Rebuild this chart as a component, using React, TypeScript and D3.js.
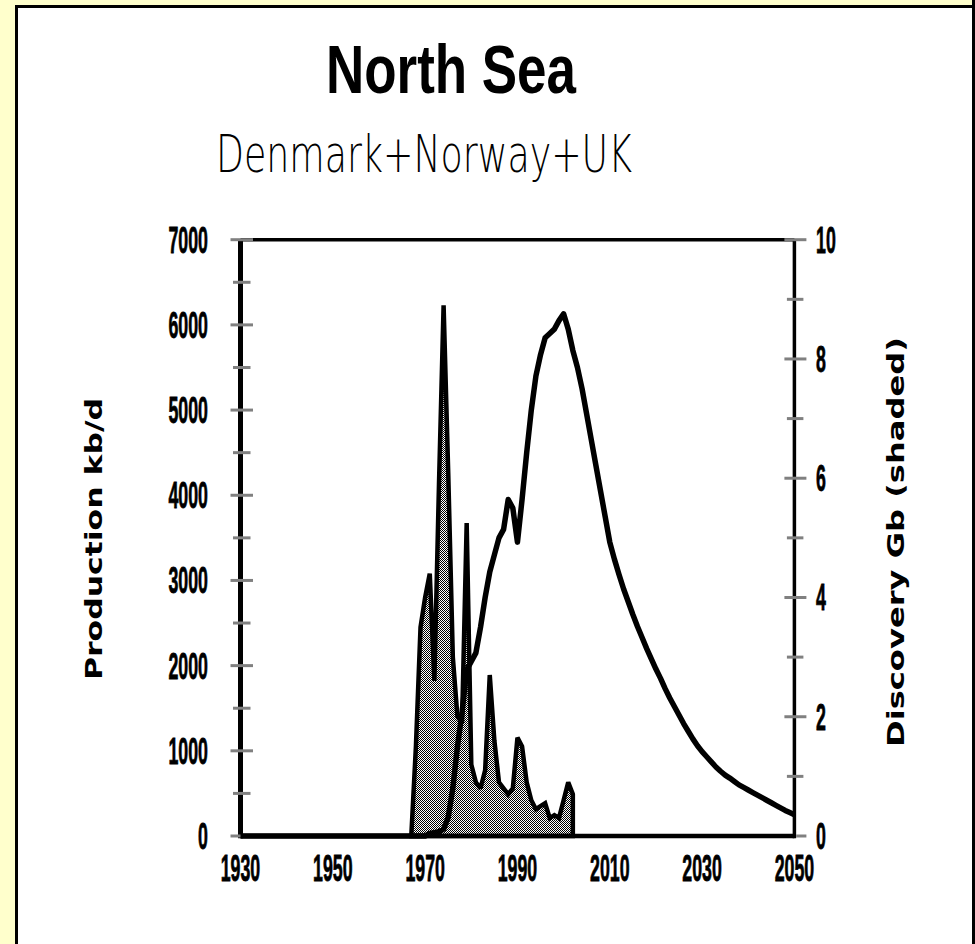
import React from "react";
import * as d3 from "d3";

// ---------- data ----------
const xTickYears = [1930, 1950, 1970, 1990, 2010, 2030, 2050];
const leftTicks = [0, 1000, 2000, 3000, 4000, 5000, 6000, 7000];
const leftMinorTicks = [500, 1500, 2500, 3500, 4500, 5500, 6500];
const rightTicks = [0, 2, 4, 6, 8, 10];
const rightMinorTicks = [1, 3, 5, 7, 9];

// production, kb/d
const prodYears = [
  1930, 1970, 1971, 1972, 1973, 1974, 1975, 1976, 1977, 1978, 1979, 1980,
  1981, 1982, 1983, 1984, 1985, 1986, 1987, 1988, 1989, 1990, 1991, 1992,
  1993, 1994, 1995, 1996, 1997, 1998, 1999, 2000, 2001, 2002, 2003, 2004,
  2005, 2006, 2007, 2008, 2009, 2010, 2011, 2012, 2013, 2014, 2015, 2016,
  2017, 2018, 2019, 2020, 2021, 2022, 2023, 2024, 2025, 2026, 2027, 2028,
  2029, 2030, 2031, 2032, 2033, 2034, 2035, 2036, 2037, 2038, 2039, 2040,
  2041, 2042, 2043, 2044, 2045, 2046, 2047, 2048, 2049, 2050,
];
const prodValues = [
  0, 0, 30, 40, 50, 80, 220, 560, 1050, 1450, 1950, 2050,
  2150, 2450, 2800, 3100, 3300, 3500, 3600, 3950, 3850, 3450, 3950, 4500,
  5000, 5400, 5650, 5850, 5900, 5950, 6050, 6130, 5950, 5700, 5500, 5250,
  4950, 4650, 4350, 4050, 3750, 3450, 3250, 3070, 2900, 2750, 2600, 2460,
  2330, 2200, 2080, 1960, 1850, 1730, 1620, 1520, 1420, 1320, 1230, 1140,
  1060, 990, 930, 870, 810, 760, 715, 680, 640, 600, 570, 540,
  510, 480, 450, 420, 390, 360, 330, 300, 275, 250,
];

// discovery, Gb
const discYears = [
  1967, 1968, 1969, 1970, 1971, 1972, 1973, 1974, 1975, 1976, 1977, 1978,
  1979, 1980, 1981, 1982, 1983, 1984, 1985, 1986, 1987, 1988, 1989, 1990,
  1991, 1992, 1993, 1994, 1995, 1996, 1997, 1998, 1999, 2000, 2001, 2002,
];
const discValues = [
  0, 1.5, 3.5, 4.0, 4.4, 2.6, 5.9, 8.9, 6.1, 3.0, 2.0, 1.9,
  5.25, 1.2, 0.9, 0.8, 1.1, 2.7, 1.6, 0.9, 0.8, 0.7, 0.8, 1.65,
  1.5, 0.9, 0.6, 0.45, 0.5, 0.55, 0.3, 0.35, 0.3, 0.6, 0.9, 0.7,
];

const TITLE = "North Sea";
const SUBTITLE = "Denmark+Norway+UK";
const LEFT_TITLE = "Production kb/d";
const RIGHT_TITLE = "Discovery Gb (shaded)";

// ---------- chart ----------
const W = 975;
const H = 944;
const X0 = 240.5, X1 = 794.4, Y0 = 836, Y1 = 239.7;
const DIGIT_SX = 0.48;

export default function App() {
  const x = d3.scaleLinear().domain([1930, 2050]).range([X0, X1]);
  const yL = d3.scaleLinear().domain([0, 7000]).range([Y0, Y1]);
  const yR = d3.scaleLinear().domain([0, 10]).range([Y0, Y1]);

  const prod = prodYears.map((yr, i) => [yr, prodValues[i]] as [number, number]);
  const disc = discYears.map((yr, i) => [yr, discValues[i]] as [number, number]);

  const prodLine = d3.line<[number, number]>().x((d) => x(d[0])).y((d) => yL(d[1]));
  const discArea = d3
    .area<[number, number]>()
    .x((d) => x(d[0]))
    .y0(yR(0))
    .y1((d) => yR(d[1]));

  const digitFont = "'Liberation Sans', Arial, sans-serif";
  const gray = "#808080";
  const digitProps = {
    fontFamily: digitFont,
    fontWeight: "bold" as const,
    fontSize: 37,
    stroke: "#000",
    strokeWidth: 0.8,
  };
  const at = (tx: number, ty: number) => `translate(${tx},${ty}) scale(${DIGIT_SX},1)`;

  return (
    <svg
      width={W}
      height={H}
      style={{ position: "absolute", left: 0, top: 0 }}
      xmlns="http://www.w3.org/2000/svg"
    >
      <defs>
        <pattern id="dither" width={2} height={2} patternUnits="userSpaceOnUse">
          <rect x={0} y={0} width={2} height={2} fill="#ffffff" />
          <rect x={0} y={0} width={1} height={1} fill="#000000" />
          <rect x={1} y={1} width={1} height={1} fill="#000000" />
        </pattern>
      </defs>
      <rect x={0} y={0} width={W} height={H} fill="#ffffcc" />
      <rect x={16.5} y={6.5} width={W} height={H} fill="#ffffff" stroke="#000" strokeWidth={3} />
      <line x1={973.5} y1={0} x2={973.5} y2={H} stroke="#000" strokeWidth={3} />

      <text
        x={451}
        y={93}
        textAnchor="middle"
        fontFamily={digitFont}
        fontWeight="bold"
        fontSize={68}
        textLength={250}
        lengthAdjust="spacingAndGlyphs"
      >
        {TITLE}
      </text>
      <text
        x={424}
        y={172}
        textAnchor="middle"
        fontFamily="'DejaVu Sans', sans-serif"
        fontWeight={200}
        fontSize={52}
        textLength={416}
        lengthAdjust="spacingAndGlyphs"
      >
        {SUBTITLE}
      </text>

      {/* discovery area */}
      <path
        d={discArea(disc) || ""}
        fill="url(#dither)"
        stroke="#000"
        strokeWidth={4.5}
        strokeLinejoin="miter"
        strokeMiterlimit={2}
      />
      {/* production line */}
      <path
        d={prodLine(prod) || ""}
        fill="none"
        stroke="#000"
        strokeWidth={5.5}
        strokeLinejoin="round"
      />

      {/* frame / axes */}
      <line x1={X0} y1={Y1} x2={X1} y2={Y1} stroke="#000" strokeWidth={3.5} />
      <line x1={X0} y1={Y1} x2={X0} y2={Y0 + 2.2} stroke="#000" strokeWidth={5} />
      <line x1={X1} y1={Y1} x2={X1} y2={Y0 + 2.2} stroke="#000" strokeWidth={3.5} />
      <line x1={X0} y1={Y0} x2={X1} y2={Y0} stroke="#000" strokeWidth={4.5} />

      {/* left ticks */}
      {leftMinorTicks.map((v) => (
        <line key={"lm" + v} x1={X0 - 7.5} x2={X0 + 10} y1={yL(v)} y2={yL(v)} stroke={gray} strokeWidth={3} />
      ))}
      {leftTicks.map((v) => (
        <line
          key={"lt" + v}
          x1={X0 - 10}
          x2={v === 0 ? X0 : X0 + 12.5}
          y1={yL(v)}
          y2={yL(v)}
          stroke={gray}
          strokeWidth={3}
        />
      ))}
      {leftTicks.map((v) => (
        <text key={"ll" + v} transform={at(208, yL(v) + 13)} textAnchor="end" {...digitProps}>
          {v}
        </text>
      ))}

      {/* right ticks */}
      {rightMinorTicks.map((v) => (
        <line key={"rm" + v} x1={X1 - 7.5} x2={X1 + 9} y1={yR(v)} y2={yR(v)} stroke={gray} strokeWidth={3} />
      ))}
      {rightTicks.map((v) => (
        <line
          key={"rt" + v}
          x1={v === 0 ? X1 + 1.7 : X1 - 10}
          x2={X1 + 12}
          y1={yR(v)}
          y2={yR(v)}
          stroke={gray}
          strokeWidth={3}
        />
      ))}
      {rightTicks.map((v) => (
        <text key={"rl" + v} transform={at(816, yR(v) + 13)} textAnchor="start" {...digitProps}>
          {v}
        </text>
      ))}

      {/* x labels */}
      {xTickYears.map((yr) => (
        <text key={"x" + yr} transform={at(x(yr), 881)} textAnchor="middle" {...digitProps}>
          {yr}
        </text>
      ))}

      {/* axis titles */}
      <text
        transform="translate(102,539) rotate(-90)"
        textAnchor="middle"
        fontFamily="'DejaVu Sans', sans-serif"
        fontWeight="bold"
        fontSize={23}
        textLength={282}
        lengthAdjust="spacingAndGlyphs"
      >
        {LEFT_TITLE}
      </text>
      <text
        transform="translate(904,542) rotate(-90)"
        textAnchor="middle"
        fontFamily="'DejaVu Sans', sans-serif"
        fontWeight="bold"
        fontSize={23}
        textLength={410}
        lengthAdjust="spacingAndGlyphs"
      >
        {RIGHT_TITLE}
      </text>
    </svg>
  );
}
